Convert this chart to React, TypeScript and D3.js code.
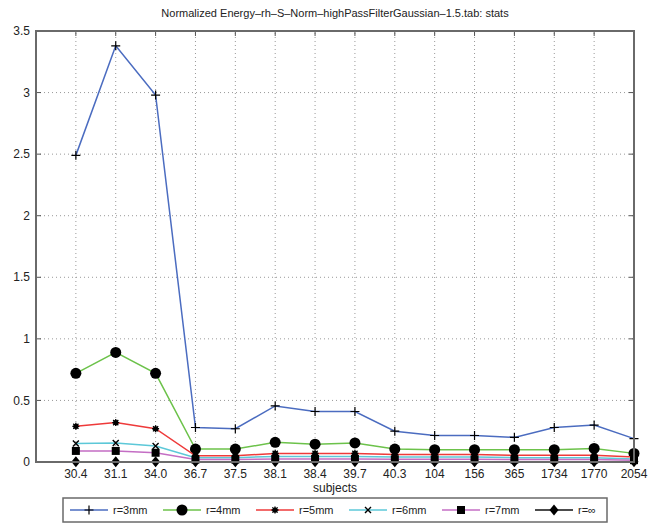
import React from 'react';
import * as d3 from 'd3';

const subjects = ['30.4', '31.1', '34.0', '36.7', '37.5', '38.1', '38.4', '39.7', '40.3', '104', '156', '365', '1734', '1770', '2054'];
const yTicks = [0, 0.5, 1, 1.5, 2, 2.5, 3, 3.5];

const r3 = [2.49, 3.38, 2.98, 0.28, 0.27, 0.455, 0.41, 0.41, 0.25, 0.215, 0.215, 0.2, 0.28, 0.3, 0.19];
const r4 = [0.72, 0.89, 0.72, 0.105, 0.105, 0.16, 0.145, 0.155, 0.105, 0.1, 0.1, 0.1, 0.1, 0.11, 0.07];
const r5 = [0.29, 0.32, 0.27, 0.05, 0.05, 0.07, 0.07, 0.07, 0.06, 0.06, 0.06, 0.055, 0.055, 0.055, 0.04];
const r6 = [0.15, 0.155, 0.13, 0.035, 0.035, 0.045, 0.045, 0.045, 0.04, 0.04, 0.04, 0.035, 0.035, 0.035, 0.025];
const r7 = [0.09, 0.09, 0.075, 0.02, 0.02, 0.025, 0.025, 0.025, 0.022, 0.022, 0.022, 0.02, 0.02, 0.02, 0.015];
const rInf = [0.003, 0.003, 0.003, 0.002, 0.002, 0.002, 0.002, 0.002, 0.002, 0.002, 0.002, 0.002, 0.002, 0.002, 0.002];

const series = [
  { label: 'r=3mm', values: r3, color: '#4b6cc0', marker: 'plus' },
  { label: 'r=4mm', values: r4, color: '#6cc24a', marker: 'circle' },
  { label: 'r=5mm', values: r5, color: '#ee3a3a', marker: 'star' },
  { label: 'r=6mm', values: r6, color: '#5cc8d8', marker: 'x' },
  { label: 'r=7mm', values: r7, color: '#c46ec4', marker: 'square' },
  { label: 'r=\u221e', values: rInf, color: '#111111', marker: 'diamond' },
];

const W = 658, H = 523;
const margin = { top: 31, right: 24, bottom: 61, left: 36 };
const font = '"Liberation Sans", Arial, sans-serif';

function Marker({ type, cx, cy }: { type: string; cx: number; cy: number }) {
  const k = '#000';
  if (type === 'plus') return <path d={`M${cx - 4.5},${cy}H${cx + 4.5}M${cx},${cy - 4.5}V${cy + 4.5}`} stroke={k} strokeWidth={1.2} />;
  if (type === 'circle') return <circle cx={cx} cy={cy} r={5.5} fill={k} />;
  if (type === 'star') return (
    <g stroke={k} strokeWidth={1.3}>
      <circle cx={cx} cy={cy} r={2.6} fill={k} stroke="none" />
      <path d={`M${cx - 3.5},${cy}H${cx + 3.5}M${cx},${cy - 3.5}V${cy + 3.5}M${cx - 2.6},${cy - 2.6}L${cx + 2.6},${cy + 2.6}M${cx - 2.6},${cy + 2.6}L${cx + 2.6},${cy - 2.6}`} />
    </g>
  );
  if (type === 'x') return <path d={`M${cx - 3},${cy - 3}L${cx + 3},${cy + 3}M${cx - 3},${cy + 3}L${cx + 3},${cy - 3}`} stroke={k} strokeWidth={1.4} />;
  if (type === 'square') return <rect x={cx - 4} y={cy - 4} width={8} height={8} fill={k} />;
  return <path d={`M${cx},${cy - 5.5}L${cx + 4.5},${cy}L${cx},${cy + 5.5}L${cx - 4.5},${cy}Z`} fill={k} />;
}

export default function App() {
  const x = d3.scaleLinear().domain([0, subjects.length]).range([margin.left, W - margin.right]);
  const y = d3.scaleLinear().domain([0, 3.5]).range([H - margin.bottom, margin.top]);
  const x0 = x(0), x1 = x(subjects.length), y0 = y(0), y1 = y(3.5);
  const line = d3.line<number>().x((_, i) => x(i + 1)).y(d => y(d));

  const legendX = 63, legendW = 544, legendY = 498, legendH = 24, step = 93;

  return (
    <svg width={W} height={H} style={{ position: 'absolute', left: 0, top: 0, background: '#fff' }}>
      <rect width={W} height={H} fill="#fff" />
      <text x={(x0 + x1) / 2} y={17} textAnchor="middle" fontFamily={font} fontSize={11} fill="#222">
        Normalized Energy–rh–S–Norm–highPassFilterGaussian–1.5.tab: stats
      </text>

      {/* grid */}
      <g stroke="#999" strokeWidth={1} strokeDasharray="1,3">
        {subjects.map((s, i) => <line key={s} x1={x(i + 1)} x2={x(i + 1)} y1={y0} y2={y1} />)}
        {yTicks.map(t => <line key={t} x1={x0} x2={x1} y1={y(t)} y2={y(t)} />)}
      </g>

      {/* ticks */}
      <g stroke="#555" strokeWidth={1}>
        {subjects.map((s, i) => (
          <g key={s}>
            <line x1={x(i + 1)} x2={x(i + 1)} y1={y0} y2={y0 - 5} />
            <line x1={x(i + 1)} x2={x(i + 1)} y1={y1} y2={y1 + 5} />
          </g>
        ))}
        {yTicks.map(t => (
          <g key={t}>
            <line x1={x0} x2={x0 + 5} y1={y(t)} y2={y(t)} />
            <line x1={x1} x2={x1 - 5} y1={y(t)} y2={y(t)} />
          </g>
        ))}
      </g>

      {/* series */}
      {series.map(s => (
        <g key={s.label}>
          <path d={line(s.values) || ''} fill="none" stroke={s.color} strokeWidth={1.5} />
          {s.values.map((v, i) => <Marker key={i} type={s.marker} cx={x(i + 1)} cy={y(v)} />)}
        </g>
      ))}

      <rect x={x0} y={y1} width={x1 - x0} height={y0 - y1} fill="none" stroke="#6a6a6a" strokeWidth={2} />

      {/* tick labels */}
      <g fontFamily={font} fontSize={12} fill="#222">
        {yTicks.map(t => (
          <text key={t} x={x0 - 6} y={y(t)} dy="0.35em" textAnchor="end">{d3.format('~g')(t)}</text>
        ))}
        {subjects.map((s, i) => (
          <text key={s} x={x(i + 1)} y={478} textAnchor="middle">{s}</text>
        ))}
        <text x={(x0 + x1) / 2} y={492} textAnchor="middle">subjects</text>
      </g>

      {/* legend */}
      <rect x={legendX} y={legendY} width={legendW} height={legendH} fill="#fff" stroke="#6a6a6a" strokeWidth={1.5} />
      {series.map((s, i) => {
        const lx = legendX + 7 + i * step;
        const ly = legendY + legendH / 2;
        return (
          <g key={s.label}>
            <line x1={lx} x2={lx + 38} y1={ly} y2={ly} stroke={s.color} strokeWidth={1.5} />
            <Marker type={s.marker} cx={lx + 19} cy={ly} />
            <text x={lx + 43} y={ly} dy="0.35em" fontFamily={font} fontSize={11} fill="#222">{s.label}</text>
          </g>
        );
      })}
    </svg>
  );
}
